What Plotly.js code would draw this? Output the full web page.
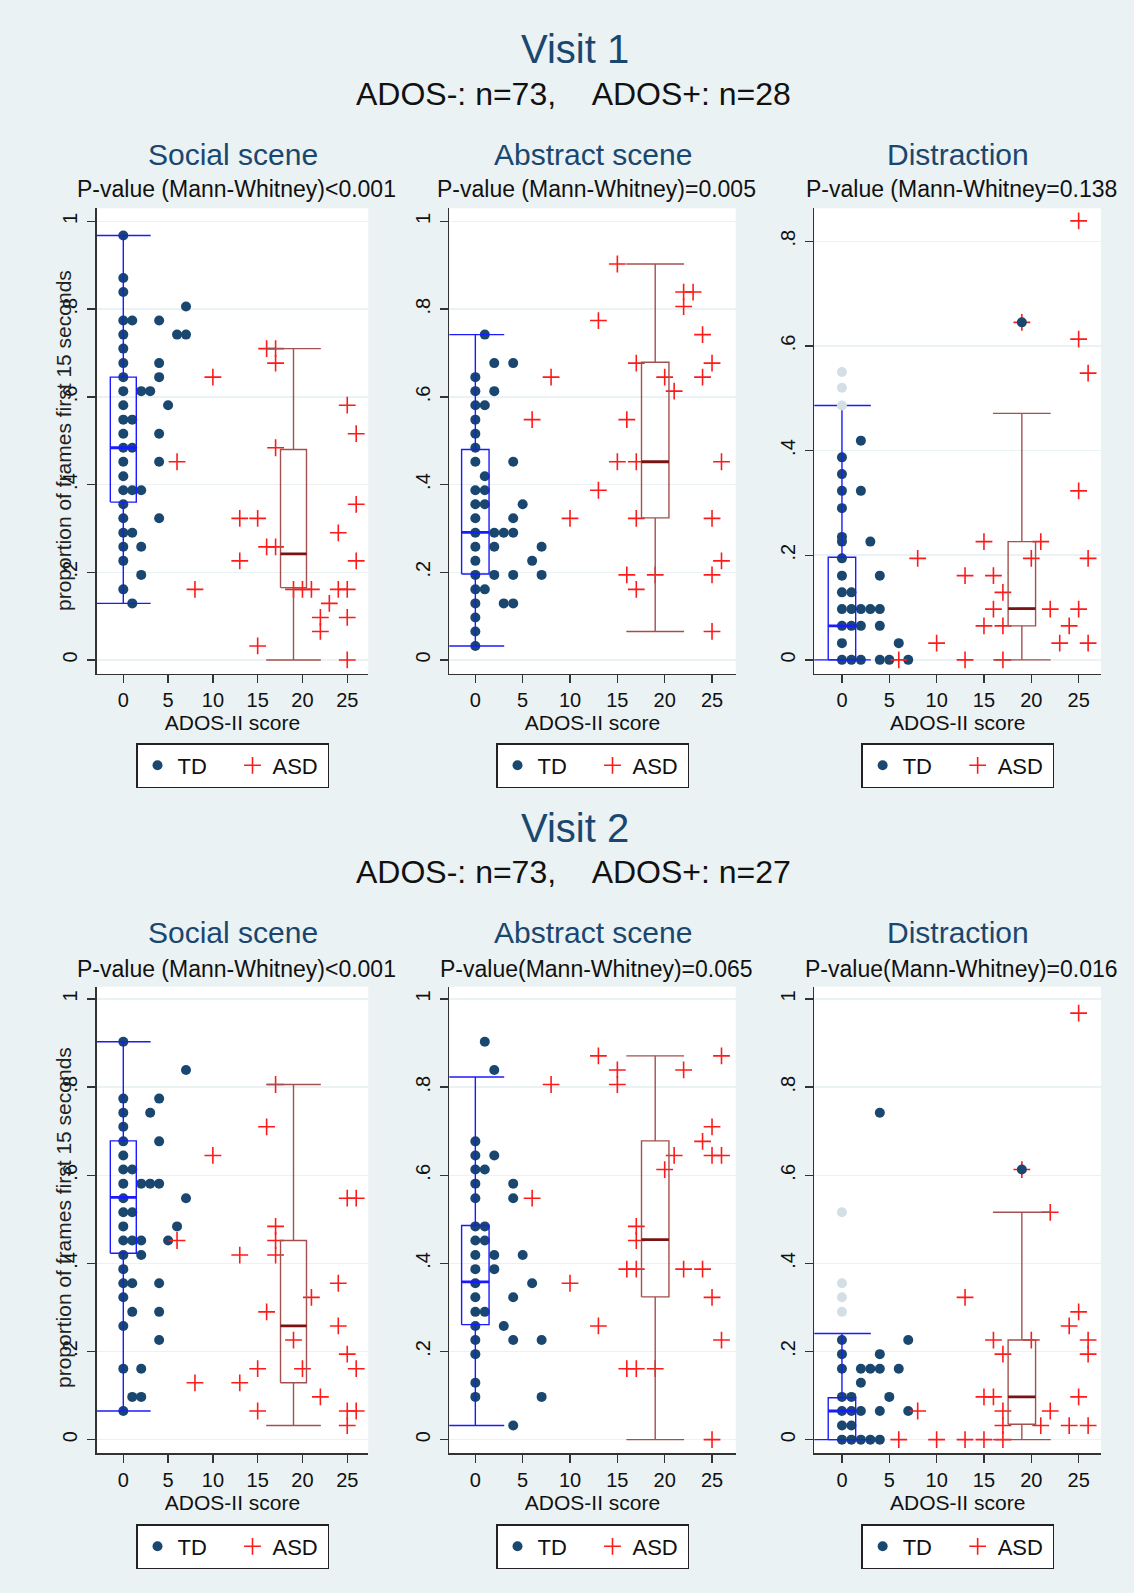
<!DOCTYPE html>
<html>
<head>
<meta charset="utf-8">
<script src="https://cdn.plot.ly/plotly-3.0.1.min.js"></script>
<style>
html,body{margin:0;padding:0;background:#eaf2f3;}
#chart{width:1134px;height:1593px;}
</style>
</head>
<body>
<div id="chart"></div>
<script>
// ---------------- DATA ----------------
const xTickVals = [0, 5, 10, 15, 20, 25];
const yTickVals = [0, 0.2, 0.4, 0.6, 0.8, 1];
const yTickText = ['0', '.2', '.4', '.6', '.8', '1'];
const boxCenters = [0, 19]; // TD, ASD

const visitTitles = ['Visit 1', 'Visit 2'];
const visitSubtitles = ['ADOS-: n=73,\u00a0\u00a0\u00a0\u00a0ADOS+: n=28', 'ADOS-: n=73,\u00a0\u00a0\u00a0\u00a0ADOS+: n=27'];
const panelTitles = ['Social scene', 'Abstract scene', 'Distraction'];
const pValueTexts = [
  'P-value (Mann-Whitney)<0.001', 'P-value (Mann-Whitney)=0.005', 'P-value (Mann-Whitney=0.138',
  'P-value (Mann-Whitney)<0.001', 'P-value(Mann-Whitney)=0.065', 'P-value(Mann-Whitney)=0.016'
];
const yTitle = 'proportion of frames first 15 seconds';
const xTitle = 'ADOS-II score';

// Visit 1 - Social scene
const v1SocTdX = [0,0,0,0,0,0,0,0,0,0,0,0,0,0,0,0,0,0,0,0,0,0, 1,1,1,1,1,1, 2,2,2,2, 3, 4,4,4,4,4,4, 5, 6, 7,7];
const v1SocTdY = [0.968,0.871,0.839,0.774,0.742,0.710,0.677,0.645,0.613,0.581,0.548,0.516,0.484,0.452,0.419,0.387,0.355,0.323,0.290,0.258,0.226,0.161,
  0.774,0.548,0.484,0.387,0.290,0.129, 0.613,0.387,0.258,0.194, 0.613, 0.774,0.677,0.645,0.516,0.452,0.323, 0.581, 0.742, 0.742,0.806];
const v1SocAsdX = [10,16,17,17,25,26,17,6,26,13,15,24,16,17,13,26,8,19,20,21,24,25,23,22,25,22,15,25];
const v1SocAsdY = [0.645,0.710,0.710,0.677,0.581,0.516,0.484,0.452,0.355,0.323,0.323,0.290,0.258,0.258,0.226,0.226,0.161,0.161,0.161,0.161,0.161,0.161,0.129,0.097,0.097,0.065,0.032,0];
// box stats: [lower whisker, q1, median, q3, upper whisker]
const v1SocTdBox = [0.129, 0.360, 0.484, 0.645, 0.968];
const v1SocAsdBox = [0, 0.165, 0.242, 0.480, 0.710];

// Visit 1 - Abstract scene
const v1AbsTdX = [0,0,0,0,0,0,0,0,0,0,0,0,0,0,0,0,0,0,0, 1,1,1,1,1,1, 2,2,2,2,2, 3,3, 4,4,4,4,4,4, 5, 6, 7,7];
const v1AbsTdY = [0.645,0.613,0.581,0.548,0.516,0.484,0.452,0.387,0.355,0.323,0.290,0.258,0.226,0.194,0.161,0.129,0.097,0.065,0.032,
  0.742,0.581,0.419,0.387,0.355,0.161, 0.677,0.613,0.290,0.258,0.194, 0.290,0.129, 0.677,0.452,0.323,0.290,0.194,0.129, 0.355, 0.226, 0.258,0.194];
const v1AbsAsdX = [15,13,22,23,22,24,17,25,8,20,24,21,6,16,15,17,26,13,10,17,25,26,16,19,25,17,25];
const v1AbsAsdY = [0.903,0.774,0.839,0.839,0.806,0.742,0.677,0.677,0.645,0.645,0.645,0.613,0.548,0.548,0.452,0.452,0.452,0.387,0.323,0.323,0.323,0.226,0.194,0.194,0.194,0.161,0.065];
const v1AbsTdBox = [0.032, 0.196, 0.291, 0.480, 0.742];
const v1AbsAsdBox = [0.065, 0.324, 0.452, 0.679, 0.903];

// Visit 1 - Distraction
const v1DisTdX = [0,0,0,0,0,0,0,0,0,0,0,0,0, 1,1,1,1, 2,2,2,2,2, 3,3, 4,4,4,4, 5, 6, 7];
const v1DisTdY = [0.387,0.355,0.323,0.290,0.235,0.226,0.194,0.161,0.129,0.097,0.065,0.032,0,
  0.129,0.097,0.065,0, 0.419,0.323,0.097,0.065,0, 0.226,0.097, 0.161,0.097,0.065,0, 0, 0.032, 0];
const v1DisAsdX = [25,25,26,19,25,15,21,8,20,26,13,16,17,16,22,25,15,17,24,10,23,26,6,13,17];
const v1DisAsdY = [0.839,0.613,0.548,0.645,0.323,0.226,0.226,0.194,0.194,0.194,0.161,0.161,0.129,0.097,0.097,0.097,0.065,0.065,0.065,0.032,0.032,0.032,0,0,0];
const v1DisTdBox = [0, 0, 0.065, 0.196, 0.486];
const v1DisAsdBox = [0, 0.065, 0.098, 0.226, 0.471];
const v1DisTdOutY = [0.550, 0.520, 0.486];
const v1DisAsdOutY = [0.645];

// Visit 2 - Social scene
const v2SocTdX = [0,0,0,0,0,0,0,0,0,0,0,0,0,0,0,0,0,0,0, 1,1,1,1,1,1, 2,2,2,2,2, 3,3, 4,4,4,4,4,4, 5, 6, 7,7];
const v2SocTdY = [0.903,0.774,0.742,0.710,0.677,0.645,0.613,0.581,0.548,0.516,0.484,0.452,0.419,0.387,0.355,0.323,0.258,0.161,0.065,
  0.613,0.516,0.452,0.355,0.290,0.097, 0.581,0.452,0.419,0.161,0.097, 0.742,0.581, 0.774,0.677,0.581,0.355,0.290,0.226, 0.452, 0.484, 0.839,0.548];
const v2SocAsdX = [17,16,10,25,26,17,6,17,13,17,24,21,16,24,19,25,15,20,26,8,13,22,15,25,26,25];
const v2SocAsdY = [0.806,0.710,0.645,0.548,0.548,0.484,0.452,0.452,0.419,0.419,0.355,0.323,0.290,0.258,0.226,0.194,0.161,0.161,0.161,0.129,0.129,0.097,0.065,0.065,0.065,0.032];
const v2SocTdBox = [0.065, 0.423, 0.550, 0.678, 0.903];
const v2SocAsdBox = [0.032, 0.129, 0.258, 0.452, 0.806];

// Visit 2 - Abstract scene
const v2AbsTdX = [0,0,0,0,0,0,0,0,0,0,0,0,0,0,0,0,0, 1,1,1,1,1, 2,2,2,2, 3, 4,4,4,4,4, 5, 6, 7,7];
const v2AbsTdY = [0.677,0.645,0.613,0.581,0.548,0.484,0.452,0.419,0.387,0.355,0.323,0.290,0.258,0.226,0.194,0.129,0.097,
  0.903,0.613,0.484,0.452,0.290, 0.839,0.645,0.419,0.387, 0.258, 0.581,0.548,0.323,0.226,0.032, 0.419, 0.355, 0.226,0.097];
const v2AbsAsdX = [13,26,15,22,8,15,25,24,21,25,26,20,6,17,17,16,17,22,24,10,25,13,26,16,17,19,25];
const v2AbsAsdY = [0.871,0.871,0.839,0.839,0.806,0.806,0.710,0.677,0.645,0.645,0.645,0.613,0.548,0.484,0.452,0.387,0.387,0.387,0.387,0.355,0.323,0.258,0.226,0.161,0.161,0.161,0];
const v2AbsTdBox = [0.032, 0.261, 0.358, 0.486, 0.823];
const v2AbsAsdBox = [0, 0.324, 0.454, 0.678, 0.871];

// Visit 2 - Distraction
const v2DisTdX = [0,0,0,0,0,0,0, 1,1,1,1, 2,2,2,2, 3,3, 4,4,4,4,4, 5, 6, 7,7];
const v2DisTdY = [0.226,0.194,0.161,0.097,0.065,0.032,0, 0.097,0.065,0.032,0, 0.161,0.129,0.065,0, 0.161,0,
  0.742,0.194,0.161,0.065,0, 0.097, 0.161, 0.226,0.065];
const v2DisAsdX = [25,22,19,13,25,24,16,20,26,17,26,15,16,25,8,17,22,17,21,24,26,6,10,13,15,17];
const v2DisAsdY = [0.968,0.516,0.613,0.323,0.290,0.258,0.226,0.226,0.226,0.194,0.194,0.097,0.097,0.097,0.065,0.065,0.065,0.032,0.032,0.032,0.032,0,0,0,0,0];
const v2DisTdBox = [0, 0, 0.065, 0.095, 0.241];
const v2DisAsdBox = [0, 0.035, 0.097, 0.226, 0.516];
const v2DisTdOutY = [0.516, 0.355, 0.323, 0.290];
const v2DisAsdOutY = [0.613];

// ---------------- STYLE / LAYOUT ----------------
const FONT = 'Liberation Sans, Arial, Helvetica, sans-serif';
const NAVY = '#1a476f';
const RED = '#ff1a1a';
const TDBOX = '#1a1aff';
const ASDBOX = '#a4504e';
const ASDMED = '#7a1414';
const PALE = '#d3dfe4';
const BG = '#eaf2f3';
const W = 1134, H = 1593;
const px = v => v / W;
const py = v => 1 - v / H;

const panels = [
  {tdX: v1SocTdX, tdY: v1SocTdY, asdX: v1SocAsdX, asdY: v1SocAsdY, tdBox: v1SocTdBox, asdBox: v1SocAsdBox, tdOut: [], asdOut: [], yr: [-0.032, 1.03]},
  {tdX: v1AbsTdX, tdY: v1AbsTdY, asdX: v1AbsAsdX, asdY: v1AbsAsdY, tdBox: v1AbsTdBox, asdBox: v1AbsAsdBox, tdOut: [], asdOut: [], yr: [-0.032, 1.03]},
  {tdX: v1DisTdX, tdY: v1DisTdY, asdX: v1DisAsdX, asdY: v1DisAsdY, tdBox: v1DisTdBox, asdBox: v1DisAsdBox, tdOut: v1DisTdOutY, asdOut: v1DisAsdOutY, yr: [-0.027, 0.863]},
  {tdX: v2SocTdX, tdY: v2SocTdY, asdX: v2SocAsdX, asdY: v2SocAsdY, tdBox: v2SocTdBox, asdBox: v2SocAsdBox, tdOut: [], asdOut: [], yr: [-0.031, 1.028]},
  {tdX: v2AbsTdX, tdY: v2AbsTdY, asdX: v2AbsAsdX, asdY: v2AbsAsdY, tdBox: v2AbsTdBox, asdBox: v2AbsAsdBox, tdOut: [], asdOut: [], yr: [-0.031, 1.028]},
  {tdX: v2DisTdX, tdY: v2DisTdY, asdX: v2DisAsdX, asdY: v2DisAsdY, tdBox: v2DisTdBox, asdBox: v2DisAsdBox, tdOut: v2DisTdOutY, asdOut: v2DisAsdOutY, yr: [-0.031, 1.028]}
];

const colPx = [[96.7, 368.3], [449.3, 735.7], [814.3, 1101]];
const rowPx = [[208.3, 674], [986.7, 1453.3]];
const xRanges = [[-2.97, 27.35], [-2.75, 27.5], [-2.92, 27.36]];
const titleRowY = [[49, 94.5, 154.5, 189], [828, 872, 932, 968.5]];
const legendTopPx = [743, 1524];
const yTitleCenterPx = [441, 1218];

const HW = 1.45, CW = 3.05;
function boxShape(c, s) {
  return {
    x: [c-HW, c+HW, c+HW, c-HW, c-HW, null, c, c, null, c, c, null, c-CW, c+CW, null, c-CW, c+CW],
    y: [s[1], s[1], s[3], s[3], s[1], null, s[3], s[4], null, s[1], s[0], null, s[4], s[4], null, s[0], s[0]]
  };
}

const traces = [];
const layout = {
  width: W, height: H,
  margin: {l: 0, r: 0, t: 0, b: 0},
  paper_bgcolor: BG, plot_bgcolor: '#ffffff',
  font: {family: FONT, color: '#000'},
  hovermode: false,
  showlegend: true,
  annotations: []
};

panels.forEach((p, i) => {
  const row = Math.floor(i / 3), col = i % 3;
  const sfx = i === 0 ? '' : String(i + 1);
  const xa = 'x' + sfx, ya = 'y' + sfx;
  const leg = 'legend' + sfx;
  const cx = colPx[col], ry = rowPx[row];

  layout['xaxis' + sfx] = {
    domain: [px(cx[0]), px(cx[1])], range: xRanges[col], anchor: ya,
    tickvals: xTickVals, ticks: 'outside', ticklen: 8, tickwidth: 1.4, tickcolor: '#333',
    showline: true, linecolor: '#333', linewidth: 1.4, showgrid: false, zeroline: false,
    tickfont: {family: FONT, size: 20, color: '#111'},
    title: {text: xTitle, font: {family: FONT, size: 21, color: '#111'}, standoff: 0},
    automargin: false, fixedrange: true
  };
  layout['yaxis' + sfx] = {
    domain: [py(ry[1]), py(ry[0])], range: p.yr, anchor: xa,
    tickvals: yTickVals, ticktext: yTickText, tickangle: -90,
    ticks: 'outside', ticklen: 8, tickwidth: 1.4, tickcolor: '#333',
    showline: true, linecolor: '#333', linewidth: 1.4,
    showgrid: true, gridcolor: BG, gridwidth: 1.5, zeroline: false,
    tickfont: {family: FONT, size: 20, color: '#111'},
    ticklabelstandoff: 2,
    automargin: false, fixedrange: true
  };
  layout[leg] = {
    x: px((cx[0] + cx[1]) / 2), y: py(legendTopPx[row]), xanchor: 'center', yanchor: 'top',
    orientation: 'h', bgcolor: '#ffffff', bordercolor: '#222', borderwidth: 1.5,
    font: {family: FONT, size: 22, color: '#111'}, entrywidth: 50, entrywidthmode: 'pixels',
    itemclick: false, itemdoubleclick: false
  };

  traces.push({
    type: 'scatter', mode: 'markers', x: p.tdX, y: p.tdY, xaxis: xa, yaxis: ya,
    name: 'TD', legend: leg, showlegend: true,
    marker: {symbol: 'circle', size: 10, color: NAVY}
  });
  traces.push({
    type: 'scatter', mode: 'markers', x: p.asdX, y: p.asdY, xaxis: xa, yaxis: ya,
    name: 'ASD', legend: leg, showlegend: true,
    marker: {symbol: 'cross-thin', size: 12, color: RED, line: {color: RED, width: 1.6}}
  });
  const tdB = boxShape(boxCenters[0], p.tdBox);
  const asdB = boxShape(boxCenters[1], p.asdBox);
  traces.push({type: 'scatter', mode: 'lines', x: tdB.x, y: tdB.y, xaxis: xa, yaxis: ya, showlegend: false,
    line: {color: TDBOX, width: 1.4}});
  traces.push({type: 'scatter', mode: 'lines', x: asdB.x, y: asdB.y, xaxis: xa, yaxis: ya, showlegend: false,
    line: {color: ASDBOX, width: 1.4}});
  traces.push({type: 'scatter', mode: 'lines', x: [boxCenters[0]-HW, boxCenters[0]+HW], y: [p.tdBox[2], p.tdBox[2]],
    xaxis: xa, yaxis: ya, showlegend: false, line: {color: TDBOX, width: 2.8}});
  traces.push({type: 'scatter', mode: 'lines', x: [boxCenters[1]-HW, boxCenters[1]+HW], y: [p.asdBox[2], p.asdBox[2]],
    xaxis: xa, yaxis: ya, showlegend: false, line: {color: ASDMED, width: 2.8}});
  if (p.tdOut.length) {
    traces.push({type: 'scatter', mode: 'markers', x: p.tdOut.map(() => boxCenters[0]), y: p.tdOut,
      xaxis: xa, yaxis: ya, showlegend: false, marker: {symbol: 'circle', size: 10, color: PALE}});
  }
  if (p.asdOut.length) {
    traces.push({type: 'scatter', mode: 'markers', x: p.asdOut.map(() => boxCenters[1]), y: p.asdOut,
      xaxis: xa, yaxis: ya, showlegend: false, marker: {symbol: 'circle', size: 10, color: NAVY}});
  }

  const tr = titleRowY[row];
  layout.annotations.push({
    xref: 'paper', yref: 'paper', x: px((cx[0] + cx[1]) / 2), y: py(tr[2]),
    xanchor: 'center', yanchor: 'middle', showarrow: false, text: panelTitles[col],
    font: {family: FONT, size: 30, color: NAVY}
  });
  layout.annotations.push({
    xref: 'paper', yref: 'paper', x: px((cx[0] + cx[1]) / 2 + 4), y: py(tr[3]),
    xanchor: 'center', yanchor: 'middle', showarrow: false, text: pValueTexts[i],
    font: {family: FONT, size: 23, color: '#111'}
  });
  if (col === 0) {
    layout.annotations.push({
      xref: 'paper', yref: 'paper', x: px(63), y: py(yTitleCenterPx[row]),
      xanchor: 'center', yanchor: 'middle', showarrow: false, textangle: -90, text: yTitle,
      font: {family: FONT, size: 21, color: '#222'}
    });
  }
});

visitTitles.forEach((t, r) => {
  layout.annotations.push({
    xref: 'paper', yref: 'paper', x: px(575), y: py(titleRowY[r][0]), xanchor: 'center', yanchor: 'middle',
    showarrow: false, text: t, font: {family: FONT, size: 40, color: NAVY}
  });
  layout.annotations.push({
    xref: 'paper', yref: 'paper', x: px(573), y: py(titleRowY[r][1]), xanchor: 'center', yanchor: 'middle',
    showarrow: false, text: visitSubtitles[r], font: {family: FONT, size: 32, color: '#111'}
  });
});

Plotly.newPlot('chart', traces, layout, {displayModeBar: false, staticPlot: true});
</script>
</body>
</html>
